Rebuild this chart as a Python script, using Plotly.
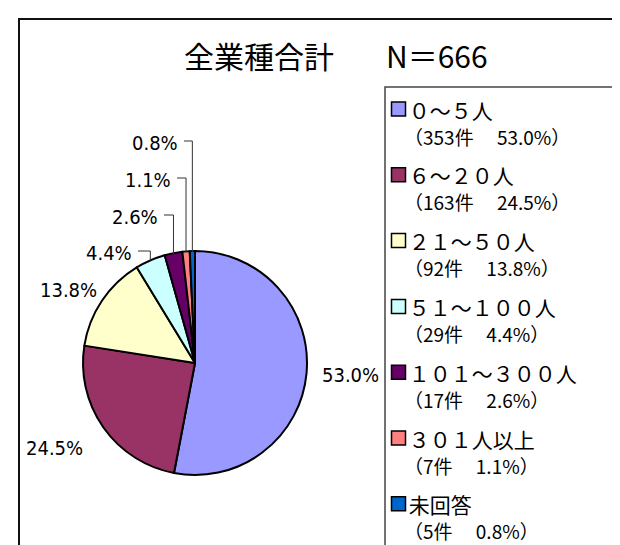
import math
import plotly.graph_objects as go

# ---- data ----
categories = ["０～５人", "６～２０人", "２１～５０人", "５１～１００人", "１０１～３００人", "３０１人以上", "未回答"]
counts = [353, 163, 92, 29, 17, 7, 5]
percents = [53.0, 24.5, 13.8, 4.4, 2.6, 1.1, 0.8]
colors = ["#9999FF", "#993366", "#FFFFCC", "#CCFFFF", "#660066", "#FF8080", "#0066CC"]
total = 666
title_left = "全業種合計"
title_right = "N＝" + str(total)

W, H = 620, 545
def px(x):
    return x / W
def py(y):
    return 1 - y / H

# pie geometry (pixels)
CX, CY, R = 187, 355, 112

fig = go.Figure()
fig.add_trace(go.Pie(
    labels=categories, values=counts, sort=False, direction="clockwise", rotation=0,
    marker=dict(colors=colors, line=dict(color="black", width=2)),
    textinfo="none", hoverinfo="label+value+percent", showlegend=False,
    domain=dict(x=[px(CX - R), px(CX + R)], y=[py(CY + R), py(CY - R)]),
))

shapes = []
annotations = []

# outer frame
shapes.append(dict(type="rect", xref="paper", yref="paper",
                   x0=px(11), x1=px(640), y0=py(11), y1=py(570),
                   line=dict(color="#111", width=2)))
# legend frame
shapes.append(dict(type="rect", xref="paper", yref="paper",
                   x0=px(377), x1=px(607), y0=py(79), y1=py(541),
                   line=dict(color="#444", width=1.5)))

# title
tfont = dict(family="Noto Sans CJK JP", size=30, color="black")
annotations.append(dict(text=title_left, x=px(174), y=py(47), xref="paper", yref="paper",
                        xanchor="left", yanchor="middle", showarrow=False, font=tfont))
annotations.append(dict(text=title_right, x=px(376), y=py(47), xref="paper", yref="paper",
                        xanchor="left", yanchor="middle", showarrow=False, font=tfont))

# legend (manual)
for i, (cat, c, n, p) in enumerate(zip(categories, colors, counts, percents)):
    y1 = 101 + 65.8 * i
    shapes.append(dict(type="rect", xref="paper", yref="paper",
                       x0=px(383.5), x1=px(397.5), y0=py(y1 - 7), y1=py(y1 + 7),
                       fillcolor=c, line=dict(color="black", width=1.5)))
    txt = ("<span style='font-size:21px'>&nbsp;%s</span><br>"
           "<span style='font-size:19px'>（%d件　 %.1f%%）</span>") % (cat, n, p)
    annotations.append(dict(text=txt, x=px(394), y=py(y1 + 13), xref="paper", yref="paper",
                            xanchor="left", yanchor="middle", align="left", showarrow=False,
                            font=dict(family="Noto Sans CJK JP", size=20, color="black")))

# slice labels
lab_font = dict(family="Liberation Sans Narrow, Arial Narrow, DejaVu Sans Condensed, sans-serif",
                size=20, color="black")
# label anchor positions (pixels): (x, y, xanchor)
label_pos = [(342, 367, "center"), (46, 440, "center"), (60, 282, "center"),
             (126, 245, "right"), (152, 209, "right"), (165, 172, "right"), (172, 135, "right")]
cum = 0.0
for k, (v, p) in enumerate(zip(counts, percents)):
    mid = (cum + v / 2) / total
    cum += v
    ang = 2 * math.pi * mid
    ex = CX + R * math.sin(ang)
    ey = CY - R * math.cos(ang)
    lx, ly, anc = label_pos[k]
    annotations.append(dict(text="%.1f%%" % p, x=px(lx), y=py(ly), xref="paper", yref="paper",
                            xanchor=anc, yanchor="middle", showarrow=False, font=lab_font))
    if anc == "right":
        path = "M %f %f L %f %f L %f %f" % (px(lx + 4), py(ly - 2), px(ex), py(ly - 2), px(ex), py(ey + 1))
        shapes.append(dict(type="path", xref="paper", yref="paper", path=path,
                           line=dict(color="#333", width=1)))

fig.update_layout(
    width=W, height=H, autosize=False,
    margin=dict(l=0, r=0, t=0, b=0),
    paper_bgcolor="white", plot_bgcolor="white",
    shapes=shapes, annotations=annotations,
)
fig.write_html("out.html")
